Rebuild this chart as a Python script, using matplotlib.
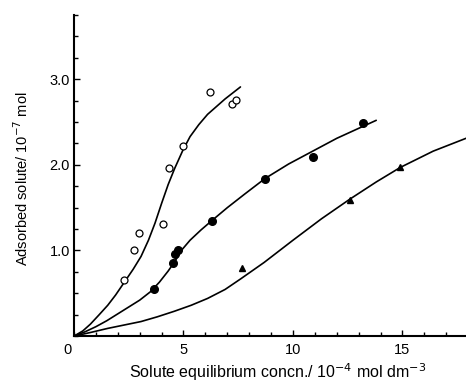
import numpy as np
import matplotlib
matplotlib.use('Agg')
import matplotlib.pyplot as plt
from matplotlib.ticker import MultipleLocator

plt.rcParams['font.family'] = ['Liberation Sans', 'DejaVu Sans']

# open circles
open_x = [2.30, 2.73, 2.95, 4.05, 4.32, 4.97, 6.19, 7.20, 7.40]
open_y = [0.65, 1.00, 1.20, 1.31, 1.96, 2.22, 2.85, 2.71, 2.76]
# filled circles
fill_x = [3.66, 4.50, 4.62, 4.75, 6.30, 8.72, 10.90, 13.20]
fill_y = [0.55, 0.85, 0.96, 1.00, 1.35, 1.84, 2.09, 2.49]
# triangles
tri_x = [7.69, 12.60, 14.90]
tri_y = [0.79, 1.59, 1.98]

# fitted curves
c1_x = [0, 0.4, 0.75, 1.15, 1.54, 1.9, 2.3, 2.7, 3.06, 3.4, 3.7, 4.0, 4.3,
        4.6, 4.97, 5.3, 5.7, 6.1, 6.5, 6.9, 7.3, 7.6]
c1_y = [0, 0.06, 0.14, 0.25, 0.36, 0.48, 0.63, 0.78, 0.93, 1.12, 1.32, 1.55,
        1.77, 1.96, 2.17, 2.33, 2.47, 2.59, 2.68, 2.77, 2.85, 2.91]
c2_x = [0, 0.5, 1.0, 1.5, 2.0, 2.5, 3.0, 3.5, 3.9, 4.3, 4.6, 4.9, 5.3, 5.8,
        6.3, 7.0, 7.8, 8.72, 9.8, 10.9, 12.0, 13.2, 13.8]
c2_y = [0, 0.05, 0.11, 0.18, 0.26, 0.34, 0.42, 0.52, 0.63, 0.76, 0.87, 1.00,
        1.12, 1.24, 1.35, 1.50, 1.66, 1.84, 2.01, 2.16, 2.31, 2.45, 2.52]
c3_x = [0, 0.8, 1.54, 2.3, 3.06, 3.8, 4.58, 5.35, 6.1, 6.9, 7.62, 8.68, 10.0,
        11.3, 12.6, 13.8, 14.9, 16.4, 17.9]
c3_y = [0, 0.045, 0.09, 0.13, 0.17, 0.225, 0.29, 0.36, 0.44, 0.545, 0.67, 0.86,
        1.12, 1.37, 1.60, 1.80, 1.97, 2.16, 2.31]

fig = plt.figure(figsize=(4.66, 3.85), dpi=100)
ax = fig.add_axes([0.1588, 0.127, 0.8412, 0.834])

for cx, cy in [(c1_x, c1_y), (c2_x, c2_y), (c3_x, c3_y)]:
    ax.plot(cx, cy, color='black', lw=1.2, solid_capstyle='round', solid_joinstyle='round')

ax.plot(open_x, open_y, 'o', ms=5, mfc='white', mec='black', mew=0.9, ls='none')
ax.plot(fill_x, fill_y, 'o', ms=5.5, mfc='black', mec='black', ls='none')
ax.plot(tri_x, tri_y, '^', ms=4.5, mfc='black', mec='black', ls='none')

ax.set_xlim(0, 17.9)
ax.set_ylim(0, 3.75)
ax.spines['top'].set_visible(False)
ax.spines['right'].set_visible(False)
ax.spines['left'].set_linewidth(1.5)
ax.spines['bottom'].set_linewidth(1.5)

ax.xaxis.set_minor_locator(MultipleLocator(1))
ax.yaxis.set_minor_locator(MultipleLocator(0.25))
ax.set_xticks([5, 10, 15])
ax.set_xticklabels(['5', '10', '15'])
ax.set_yticks([1, 2, 3])
ax.set_yticklabels(['1.0', '2.0', '3.0'])
ax.tick_params(which='both', direction='in', width=1, labelsize=10.5, colors='black')
ax.tick_params(which='major', length=4)
ax.tick_params(which='minor', length=3)
ax.tick_params(axis='x', which='major', pad=5)
ax.tick_params(axis='y', which='major', pad=3)
ax.text(-0.31, -0.075, '0', fontsize=10.5, ha='center', va='top')

fig.text(0.595, 0.004, 'Solute equilibrium concn./ 10$^{-4}$ mol dm$^{-3}$',
         fontsize=11.5, ha='center', va='bottom')
fig.text(0.047, 0.536, 'Adsorbed solute/ 10$^{-7}$ mol', fontsize=10.5, rotation=90,
         ha='center', va='center')

fig.savefig('out.png', dpi=100)
